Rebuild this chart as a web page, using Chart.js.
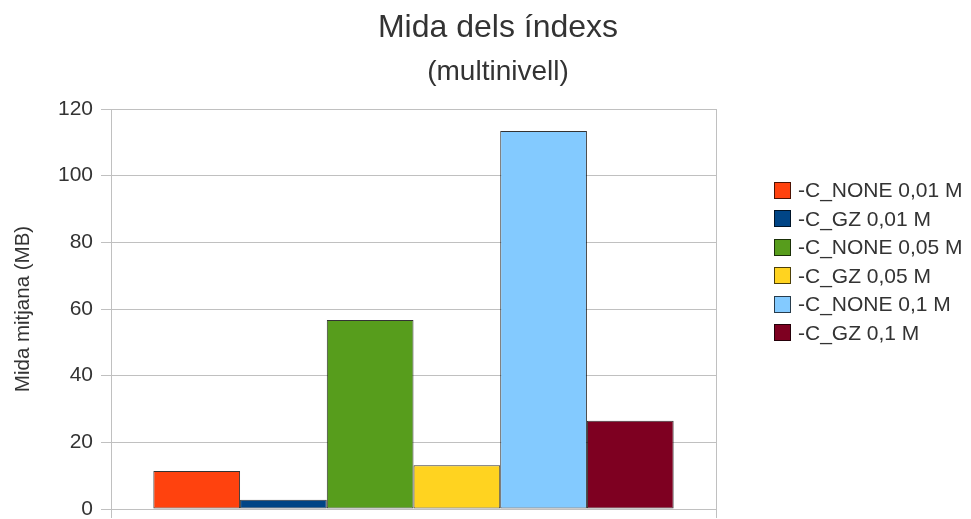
<!DOCTYPE html>
<html>
<head>
<meta charset="utf-8">
<title>Mida dels índexs</title>
<script src="https://cdn.jsdelivr.net/npm/chart.js@4/dist/chart.umd.min.js"></script>
<style>
    html, body { margin: 0; padding: 0; background: #ffffff; }
    .wrap { position: relative; width: 971px; height: 519px; }
    #chart { position: absolute; left: 0; top: 0; }
    .legend {
        position: absolute;
        left: 774px;
        top: 176px;
        font-family: 'Liberation Sans', Arial, sans-serif;
        font-size: 21px;
        color: #333333;
    }
    .legend-item { display: flex; align-items: center; height: 28.5px; white-space: nowrap; }
    .legend-color {
        width: 15px; height: 15px;
        border: 1px solid rgba(0, 0, 0, 0.7);
        margin-right: 7px;
        flex: none;
    }
</style>
</head>
<body>
<div class="wrap">
    <canvas id="chart" width="971" height="519"></canvas>
    <div class="legend" id="legend"></div>
</div>
<script>
// ==========================================
// Data
// ==========================================

const CATEGORIES = [''];
const SERIES_LABELS = [
    '-C_NONE 0,01 M',
    '-C_GZ 0,01 M',
    '-C_NONE 0,05 M',
    '-C_GZ 0,05 M',
    '-C_NONE 0,1 M',
    '-C_GZ 0,1 M'
];
const SERIES_VALUES = [11.4, 2.8, 56.7, 13.1, 113.4, 26.5];
const SERIES_COLORS = ['#ff420e', '#004586', '#579d1c', '#ffd320', '#83caff', '#7e0021'];
const Y_MIN = 0;
const Y_MAX = 120;
const Y_STEP = 20;

const TITLE = 'Mida dels índexs';
const SUBTITLE = '(multinivell)';
const Y_TITLE = 'Mida mitjana (MB)';

const FONT = "'Liberation Sans', Arial, sans-serif";
const TEXT_COLOR = '#333333';
const GRID_COLOR = '#c0c0c0';

// Title + subtitle, centred a bit right of the canvas middle like the original
const titlePlugin = {
    id: 'twoLineTitle',
    afterDraw: function(chart) {
        const ctx = chart.ctx;
        ctx.save();
        ctx.fillStyle = TEXT_COLOR;
        ctx.textAlign = 'center';
        ctx.textBaseline = 'alphabetic';
        ctx.font = `32px ${FONT}`;
        ctx.fillText(TITLE, 498, 37);
        ctx.font = `28px ${FONT}`;
        ctx.fillText(SUBTITLE, 498, 80);
        ctx.restore();
    }
};

const datasets = SERIES_LABELS.map((label, i) => ({
    label: label,
    data: [SERIES_VALUES[i]],
    backgroundColor: SERIES_COLORS[i],
    borderColor: 'rgba(0, 0, 0, 0.8)',
    borderWidth: 1,
    borderSkipped: false
}));

new Chart(document.getElementById('chart'), {
    type: 'bar',
    data: { labels: CATEGORIES, datasets: datasets },
    options: {
        responsive: false,
        animation: false,
        layout: { padding: { top: 109, right: 255, bottom: 0, left: 0 } },
        datasets: {
            bar: { categoryPercentage: 0.86, barPercentage: 1 }
        },
        plugins: {
            legend: { display: false },
            tooltip: { enabled: false }
        },
        scales: {
            x: {
                grid: { color: GRID_COLOR, tickLength: 9, offset: true },
                border: { color: GRID_COLOR },
                ticks: { display: false },
                afterFit: function(scale) { scale.height = 10; }
            },
            y: {
                min: Y_MIN,
                max: Y_MAX,
                grid: { color: GRID_COLOR, tickLength: 10 },
                border: { color: GRID_COLOR },
                ticks: {
                    stepSize: Y_STEP,
                    padding: 8,
                    color: TEXT_COLOR,
                    font: { family: FONT, size: 21 }
                },
                title: {
                    display: true,
                    text: Y_TITLE,
                    color: TEXT_COLOR,
                    font: { family: FONT, size: 20.5 },
                    padding: { top: 11, bottom: 0 }
                },
                afterFit: function(scale) {
                    scale.width = 111;
                    // let the 0 / 120 labels hang over the edges, as in the original
                    scale.paddingTop = 0;
                    scale.paddingBottom = 0;
                }
            }
        }
    },
    plugins: [titlePlugin]
});

// Legend built from the same arrays
const legend = document.getElementById('legend');
SERIES_LABELS.forEach((label, i) => {
    const item = document.createElement('div');
    item.className = 'legend-item';
    item.innerHTML = `<span class="legend-color" style="background-color: ${SERIES_COLORS[i]}"></span><span>${label}</span>`;
    legend.appendChild(item);
});
</script>
</body>
</html>
